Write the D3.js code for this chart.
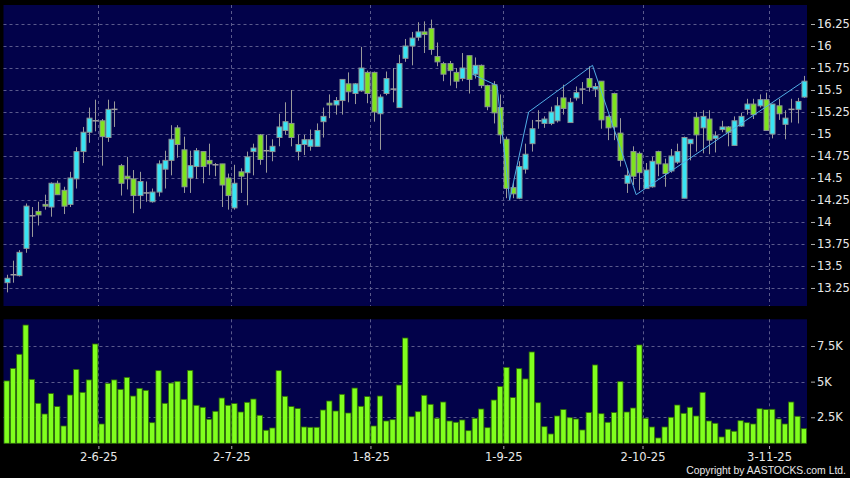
<!DOCTYPE html>
<html><head><meta charset="utf-8">
<script src="https://cdn.jsdelivr.net/npm/d3@7"></script>
<style>html,body{margin:0;padding:0;background:#000;} svg{display:block}</style>
</head><body>
<script>
const openP = [13.31,13.40,13.39,13.70,14.07,14.12,14.20,14.17,14.44,14.36,
14.20,14.49,14.80,15.02,15.15,15.15,14.96,15.28,14.64,14.52,
14.49,14.30,14.33,14.23,14.34,14.60,14.70,15.07,14.82,14.50,
14.63,14.80,14.70,14.65,14.66,14.50,14.16,14.57,14.56,14.80,
14.99,14.81,14.80,14.96,15.04,15.12,14.80,14.88,14.86,14.86,
15.14,15.35,15.33,15.38,15.57,15.46,15.49,15.70,15.70,15.23,
15.46,15.51,15.30,15.86,16.00,16.10,16.16,16.20,15.88,15.80,
15.80,15.70,15.63,15.89,15.68,15.78,15.55,15.56,15.30,14.94,
14.39,14.27,14.60,14.89,15.15,15.12,15.12,15.15,15.41,15.13,
15.41,15.51,15.63,15.51,15.60,15.20,15.46,15.01,14.44,14.80,
14.78,14.38,14.40,14.80,14.66,14.58,14.68,14.27,14.89,15.19,
15.07,15.17,14.95,15.05,15.08,14.87,15.09,15.28,15.34,15.32,
15.39,15.00,15.32,15.11,15.28,15.28,15.42];
const highP = [13.40,13.56,13.68,14.21,14.17,14.23,14.31,14.45,14.47,14.40,
14.57,14.85,15.08,15.30,15.39,15.17,15.39,15.37,14.66,14.74,
14.59,14.57,14.46,14.38,14.70,14.81,15.10,15.10,14.97,14.81,
14.84,14.80,14.89,14.67,14.66,14.55,14.65,14.61,14.80,14.89,
15.00,14.99,14.94,15.23,15.36,15.50,14.99,14.99,15.05,15.12,
15.30,15.45,15.42,15.62,15.70,15.58,15.99,15.72,15.71,15.45,
15.71,15.75,15.90,16.08,16.16,16.27,16.28,16.30,16.04,15.82,
15.83,15.75,15.92,15.89,15.87,15.79,15.56,15.60,15.45,14.97,
14.45,14.69,14.89,15.16,15.27,15.20,15.31,15.42,15.56,15.41,
15.54,15.59,15.77,15.58,15.60,15.21,15.47,15.18,14.61,14.86,
14.80,14.67,14.74,14.81,14.72,14.83,14.89,14.97,14.94,15.25,
15.27,15.27,15.03,15.15,15.09,15.20,15.24,15.40,15.40,15.45,
15.47,15.34,15.40,15.27,15.40,15.41,15.66];
const lowP = [13.20,13.31,13.38,13.65,13.83,13.96,14.14,14.06,14.31,14.09,
14.17,14.38,14.67,14.90,15.03,14.64,14.91,15.08,14.30,14.37,
14.10,14.15,14.23,14.22,14.29,14.38,14.53,14.73,14.33,14.33,
14.49,14.44,14.53,14.52,14.17,14.14,14.14,14.33,14.19,14.53,
14.65,14.56,14.69,14.86,14.99,14.86,14.70,14.76,14.81,14.86,
14.96,15.18,15.22,15.22,15.36,15.34,15.48,15.35,15.14,14.82,
15.44,15.36,15.30,15.82,15.78,16.06,15.92,15.90,15.77,15.60,
15.55,15.52,15.60,15.46,15.63,15.52,15.27,15.12,14.89,14.27,
14.27,14.26,14.55,14.80,15.06,15.07,15.10,15.13,15.22,15.13,
15.38,15.34,15.48,15.42,15.06,14.93,14.93,14.63,14.33,14.42,
14.36,14.38,14.39,14.52,14.40,14.56,14.66,14.27,14.70,14.80,
14.78,14.77,14.79,15.02,14.86,14.87,15.08,15.22,15.17,15.30,
15.04,14.95,15.16,14.94,15.13,15.12,15.41];
const closeP = [13.36,13.40,13.655,14.18,14.07,14.08,14.18,14.44,14.31,14.18,
14.50,14.80,15.02,15.18,15.15,14.97,15.28,15.28,14.44,14.49,
14.30,14.46,14.33,14.34,14.66,14.70,14.94,14.88,14.40,14.64,
14.81,14.63,14.66,14.65,14.42,14.30,14.44,14.52,14.74,14.84,
14.71,14.81,14.86,15.08,15.14,14.96,14.88,14.935,14.935,15.04,
15.20,15.33,15.38,15.62,15.48,15.57,15.75,15.46,15.25,15.42,
15.63,15.51,15.80,16.00,16.09,16.16,16.13,15.96,15.82,15.68,
15.72,15.60,15.75,15.62,15.78,15.55,15.31,15.24,14.99,14.38,
14.32,14.63,14.77,15.06,15.15,15.17,15.25,15.32,15.29,15.36,
15.47,15.51,15.53,15.54,15.16,15.07,15.08,14.70,14.53,14.52,
14.56,14.59,14.69,14.66,14.55,14.75,14.80,14.96,14.94,14.99,
15.20,14.93,14.98,15.08,15.02,15.15,15.20,15.34,15.22,15.39,
15.04,15.34,15.23,15.18,15.28,15.37,15.60];
const volume = [5050,5930,6920,8970,5160,3480,2730,4160,3250,1890,
4060,5860,4250,5120,7640,2030,4880,5120,4460,5300,
3990,4530,4390,2120,5770,3480,4900,5020,3760,5790,
3340,3200,2360,2920,3850,3340,3460,2870,3550,3780,
2640,1590,1750,5770,3970,3250,3110,1820,1800,1800,
3010,3640,2940,4110,2800,4550,3270,3950,1890,3990,
2240,2330,4760,8060,2540,2890,4040,3410,2430,3570,
2240,2150,2310,1560,2430,3080,1770,3710,4650,6000,
3880,5910,5190,7080,3520,1840,1330,2590,3040,2470,
2380,1610,2830,6170,2750,2150,2830,5000,2870,3150,
7570,2430,1820,1050,1820,2500,3360,2780,3200,2590,
4250,2240,2080,1120,1660,1520,2260,2120,2030,3100,
3040,3060,2380,2030,3570,2570,1700];
const tickIndex = [14, 35, 57, 78, 100, 120];
const tickLabels = ["2-6-25","2-7-25","1-8-25","1-9-25","2-10-25","3-11-25"];
const priceTicks = [13.25,13.5,13.75,14,14.25,14.5,14.75,15,15.25,15.5,15.75,16,16.25];
const volumeTicks = [2500,5000,7500];
const trendIdx = [73.6, 77.5, 79.5, 82.5, 92.6, 99.5, 126];
const trendVal = [15.68, 15.55, 14.25, 15.25, 15.78, 14.31, 15.60];

const W = 850, H = 478;
const svg = d3.select("body").append("svg").attr("width", W).attr("height", H);
svg.append("rect").attr("width", W).attr("height", H).attr("fill", "#000");

const n = closeP.length;
const L = 3.5, R = 807;
const pTop = 5, pBot = 306, vTop = 319.3, vBot = 443.3;
const x = d3.scaleBand().domain(d3.range(n)).range([L, R]).padding(0);
const bw = x.bandwidth();
const xc = d3.scaleLinear().domain([0, n - 1]).range([x(0) + bw / 2, x(n - 1) + bw / 2]);
const y = d3.scaleLinear().domain([13.045, 16.466]).range([pBot, pTop]);
const yv = d3.scaleLinear().domain([675, 9372]).range([vBot, vTop]);

const navy = "#02024a";
const gridColor = "#5a5a8c";
svg.append("rect").attr("x", L).attr("y", pTop).attr("width", R - L).attr("height", pBot - pTop).attr("fill", navy);
svg.append("rect").attr("x", L).attr("y", vTop).attr("width", R - L).attr("height", vBot - vTop).attr("fill", navy);

// grids
const g = svg.append("g").attr("stroke", gridColor).attr("stroke-width", 1).attr("stroke-dasharray", "3,3");
g.selectAll(".hp").data(priceTicks).join("line")
  .attr("x1", L).attr("x2", R).attr("y1", d => Math.round(y(d)) + 0.5).attr("y2", d => Math.round(y(d)) + 0.5);
g.selectAll(".hv").data(volumeTicks).join("line")
  .attr("x1", L).attr("x2", R).attr("y1", d => Math.round(yv(d)) + 0.5).attr("y2", d => Math.round(yv(d)) + 0.5);
tickIndex.forEach(t => {
  const xx = Math.round(xc(t + 0.5)) + 0.5;
  g.append("line").attr("x1", xx).attr("x2", xx).attr("y1", pTop).attr("y2", pBot);
  g.append("line").attr("x1", xx).attr("x2", xx).attr("y1", vTop).attr("y2", vBot);
});

// volume bars
svg.append("g").selectAll("rect").data(volume).join("rect")
  .attr("x", (d, i) => x(i) + 0.5)
  .attr("width", bw - 1)
  .attr("y", d => yv(d))
  .attr("height", d => vBot - yv(d))
  .attr("fill", "#80ff1e").attr("stroke", "#2e6a06").attr("stroke-width", 0.8);

// candles
const cg = svg.append("g");
const idx = d3.range(n);
cg.selectAll(".wick").data(idx).join("line")
  .attr("x1", i => Math.round(xc(i)) + 0.5).attr("x2", i => Math.round(xc(i)) + 0.5)
  .attr("y1", i => y(highP[i])).attr("y2", i => y(lowP[i]))
  .attr("stroke", "#9a9a9a").attr("stroke-width", 1);
cg.selectAll(".body").data(idx.filter(i => openP[i] !== closeP[i])).join("rect")
  .attr("x", i => Math.round(xc(i)) - 2)
  .attr("width", 5)
  .attr("y", i => y(Math.max(openP[i], closeP[i])))
  .attr("height", i => Math.max(1, Math.abs(y(openP[i]) - y(closeP[i]))))
  .attr("fill", i => closeP[i] > openP[i] ? "#38e4f4" : "#7ee41e")
  .attr("stroke", "#8c9494").attr("stroke-width", 1);
cg.selectAll(".doji").data(idx.filter(i => openP[i] === closeP[i])).join("line")
  .attr("x1", i => Math.round(xc(i)) - 2.5).attr("x2", i => Math.round(xc(i)) + 3.5)
  .attr("y1", i => y(openP[i])).attr("y2", i => y(openP[i]))
  .attr("stroke", "#a0a0a0").attr("stroke-width", 1.5);

// trend line
svg.append("path").datum(d3.range(trendIdx.length))
  .attr("d", d3.line().x(k => xc(trendIdx[k])).y(k => y(trendVal[k])))
  .attr("fill", "none").attr("stroke", "#52aee6").attr("stroke-width", 1);

// axes
const font = "DejaVu Sans, Verdana, sans-serif";
const ay = svg.append("g").attr("transform", `translate(811,0)`)
  .call(d3.axisRight(y).tickValues(priceTicks).tickSize(4).tickPadding(2).tickFormat(d => String(+d.toFixed(2))));
const av = svg.append("g").attr("transform", `translate(811,0)`)
  .call(d3.axisRight(yv).tickValues(volumeTicks).tickSize(4).tickPadding(2).tickFormat(d => (d / 1000) + "K"));
const ax = svg.append("g").attr("transform", `translate(0,446)`)
  .call(d3.axisBottom(xc).tickValues(tickIndex.map(t => t + 0.5)).tickSize(3).tickPadding(4)
    .tickFormat((d, i) => tickLabels[i]));
[ay, av, ax].forEach(a => {
  a.select(".domain").remove();
  a.selectAll("line").attr("stroke", "#b0b0b0");
  a.selectAll("text").attr("fill", "#e8e8e8").style("font-family", font).style("font-size", "11.5px");
});

svg.append("text").attr("x", 846).attr("y", 473.5).attr("text-anchor", "end")
  .attr("fill", "#e8e8e8").style("font-family", "Liberation Sans, Arial, sans-serif").style("font-size", "10.4px")
  .text("Copyright by AASTOCKS.com Ltd.");
</script>
</body></html>
